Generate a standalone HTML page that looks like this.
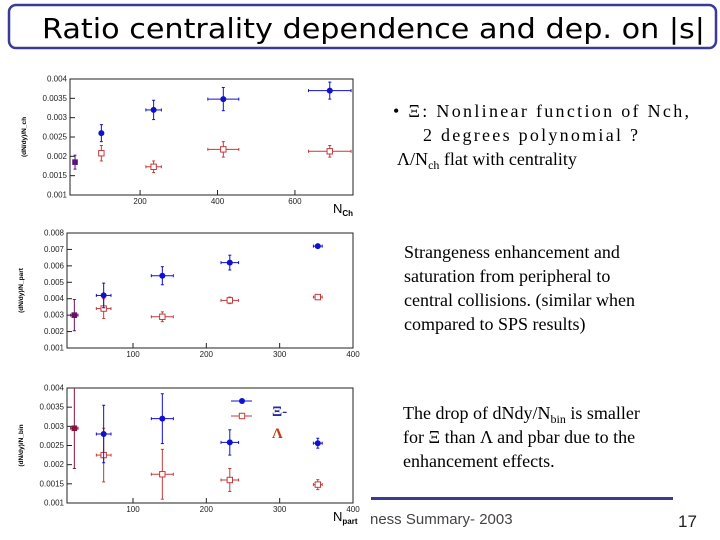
<!DOCTYPE html>
<html><head><meta charset="utf-8"><style>
html,body{margin:0;padding:0;background:#fff;}
svg{display:block;}
.tk{font:8px "Liberation Sans",sans-serif;fill:#222;}
.tx{font:18px "Liberation Serif",serif;fill:#000;}
</style></head><body>
<svg id="s" width="720" height="540" viewBox="0 0 720 540" xmlns="http://www.w3.org/2000/svg">
<rect x="9" y="5" width="707" height="43" rx="7" fill="none" stroke="#3a3a9a" stroke-width="2.5"/>
<text x="42" y="38" font-family="DejaVu Sans, sans-serif" font-size="28" textLength="663" lengthAdjust="spacingAndGlyphs">Ratio centrality dependence and dep. on |s|</text>

<text class="tx" x="393" y="117" textLength="296" lengthAdjust="spacing">• Ξ:  Nonlinear function of Nch,</text>
<text class="tx" x="423" y="141" textLength="215" lengthAdjust="spacing">2 degrees polynomial ?</text>
<text class="tx" x="397" y="165">Λ/N<tspan font-size="12" dy="4">ch</tspan><tspan dy="-4"> flat with centrality</tspan></text>

<text class="tx" x="404" y="258">Strangeness enhancement and</text>
<text class="tx" x="404" y="282">saturation from peripheral to</text>
<text class="tx" x="404" y="306">central collisions. (similar when</text>
<text class="tx" x="404" y="330">compared to SPS results)</text>

<text class="tx" x="403" y="419">The drop of dNdy/N<tspan font-size="12" dy="4">bin</tspan><tspan dy="-4"> is smaller</tspan></text>
<text class="tx" x="403" y="443">for Ξ than Λ and pbar due to the</text>
<text class="tx" x="403" y="467">enhancement effects.</text>

<rect x="371" y="497" width="302" height="3" fill="#3a3a9a"/>
<text x="370" y="524" font-family="Liberation Sans, sans-serif" font-size="15" fill="#444">ness Summary- 2003</text>
<text x="678" y="527" font-family="Liberation Sans, sans-serif" font-size="17" fill="#222">17</text>
<g id="charts"></g>
</svg>
<script>
// Chart 1: vs Nch
const c1x=[32,100,235,415,690];
const c1xi=[0.00185,0.0026,0.0032,0.00348,0.0037];
const c1xiErr=[0.00018,0.00022,0.00025,0.0003,0.00022];
const c1xErr=[5,0,20,40,55];
const c1lx=[100,235,415,690];
const c1la=[0.00208,0.00173,0.00218,0.00213];
const c1laErr=[0.0002,0.00015,0.0002,0.00015];
const c1lxErr=[0,20,40,55];
const c1yt=["0.001","0.0015","0.002","0.0025","0.003","0.0035","0.004"];
const c1xt=["200","400","600"];
// Chart 2: vs Npart
const c2x=[20,60,140,232,352];
const c2xi=[0.003,0.0042,0.0054,0.0062,0.0072];
const c2xiErr=[0.00095,0.00075,0.00055,0.00045,0.0001];
const c2xErr=[5,10,15,12,6];
const c2lx=[60,140,232,352];
const c2la=[0.0034,0.0029,0.0039,0.0041];
const c2laErr=[0.0006,0.0003,0.0002,0.0001];
const c2lxErr=[10,15,12,6];
const c2yt=["0.001","0.002","0.003","0.004","0.005","0.006","0.007","0.008"];
const c2xt=["100","200","300","400"];
// Chart 3: per Nbin
const c3x=[20,60,140,232,352];
const c3xi=[0.00295,0.0028,0.0032,0.00258,0.00256];
const c3xiErr=[0.00105,0.00075,0.00065,0.00033,0.00013];
const c3xErr=[5,10,15,12,6];
const c3lx=[60,140,232,352];
const c3la=[0.00225,0.00175,0.0016,0.00148];
const c3laErr=[0.0007,0.00065,0.0003,0.00013];
const c3lxErr=[10,15,12,6];
const c3yt=["0.001","0.0015","0.002","0.0025","0.003","0.0035","0.004"];
const c3xt=["100","200","300","400"];

const NS="http://www.w3.org/2000/svg";
const root=document.getElementById('charts');
function mk(tag,at,parent){const e=document.createElementNS(NS,tag);for(const k in at)e.setAttribute(k,at[k]);(parent||root).appendChild(e);return e;}
let cid=0;
function chart(cfg){
  const g=mk('g',{});
  
  
  const {L,R,T,B,x0,x1,y0,y1}=cfg;
  const sx=v=>L+(v-x0)/(x1-x0)*(R-L);
  const sy=v=>B-(v-y0)/(y1-y0)*(B-T);
  cid++;
  const cp=mk('clipPath',{id:'cp'+cid},g);
  mk('rect',{x:L-10,y:T,width:R-L+20,height:B-T},cp);
  const fr=mk('rect',{x:L,y:T,width:R-L,height:B-T,fill:'none',stroke:'#222','stroke-width':1},g);
  
  
  cfg.yt.forEach(s=>{const v=parseFloat(s);const y=sy(v);
    mk('line',{x1:L,x2:L+5,y1:y,y2:y,stroke:'#222'},g);
    const t=mk('text',{x:L-3,y:y+2.5,'text-anchor':'end',class:'tk'},g);t.textContent=s;
    
    });
  cfg.xt.forEach(s=>{const v=parseFloat(s);const x=sx(v);
    mk('line',{x1:x,x2:x,y1:B,y2:B-5,stroke:'#222'},g);
    const t=mk('text',{x:x,y:B+9,'text-anchor':'middle',class:'tk'},g);t.textContent=s;
    
    });
  const yl=mk('text',{transform:`translate(${L-44},${(T+B)/2}) rotate(-90)`,'text-anchor':'middle',style:'font:bold 6.5px "Liberation Sans",sans-serif'},g);
  yl.textContent=cfg.ylab;
  
  
  if(cfg.xlab){const xl=mk('text',{x:R-20,y:B+18,style:'font:13px "Liberation Sans",sans-serif'},g);
    xl.innerHTML=cfg.xlab;
    
    }
  const pgAll=mk('g',{'clip-path':'url(#cp'+cid+')'},g);
  function series(xs,ys,ye,xe,col,filled,nm,firstCol){
    xs.forEach((xv,i)=>{const x=sx(xv),y=sy(ys[i]);
      const c=(i===0&&firstCol)?firstCol:col;
      const pg=mk('g',{},pgAll);
      
      
      const ya=sy(ys[i]+ye[i]),yb=sy(ys[i]-ye[i]);
      mk('line',{x1:x,x2:x,y1:ya,y2:yb,stroke:c,'stroke-width':1},pg);
      mk('line',{x1:x-1.5,x2:x+1.5,y1:ya,y2:ya,stroke:c},pg);
      mk('line',{x1:x-1.5,x2:x+1.5,y1:yb,y2:yb,stroke:c},pg);
      if(xe[i]>0){const xa=sx(xv-xe[i]),xb=sx(xv+xe[i]);
        mk('line',{x1:xa,x2:xb,y1:y,y2:y,stroke:c},pg);
        mk('line',{x1:xa,x2:xa,y1:y-1.5,y2:y+1.5,stroke:c},pg);
        mk('line',{x1:xb,x2:xb,y1:y-1.5,y2:y+1.5,stroke:c},pg);}
      if(i===0&&firstCol) mk('rect',{x:x-2.8,y:y-2.8,width:5.6,height:5.6,fill:c},pg);
      else if(filled) mk('circle',{cx:x,cy:y,r:3,fill:c},pg);
      else mk('rect',{x:x-2.7,y:y-2.7,width:5.4,height:5.4,fill:'#fff',stroke:c,'stroke-width':1},pg);
    });
  }
  series(cfg.lx,cfg.la,cfg.laE,cfg.lxE,'#c43a3a',false,'lambda',null);
  series(cfg.x,cfg.xi,cfg.xiE,cfg.xE,'#1010d0',true,'xi',cfg.firstCol);
  return {g,sx,sy};
}
chart({name:'chart-vs-nch',L:70,R:353,T:79,B:195,x0:19,x1:750,y0:0.001,y1:0.004,firstCol:'#5a1080',
  x:c1x,xi:c1xi,xiE:c1xiErr,xE:c1xErr,lx:c1lx,la:c1la,laE:c1laErr,lxE:c1lxErr,yt:c1yt,xt:c1xt,
  ylab:'(dN/dy)/N_ch',xlab:'N<tspan font-size="8" dy="3" font-weight="bold">Ch</tspan>'});
chart({name:'chart-vs-npart',L:67,R:353,T:233,B:348,x0:10,x1:400,y0:0.001,y1:0.008,firstCol:'#6a1060',
  x:c2x,xi:c2xi,xiE:c2xiErr,xE:c2xErr,lx:c2lx,la:c2la,laE:c2laErr,lxE:c2lxErr,yt:c2yt,xt:c2xt,
  ylab:'(dN/dy)/N_part',xlab:''});
chart({name:'chart-per-nbin',L:67,R:353,T:388,B:503,x0:10,x1:400,y0:0.001,y1:0.004,firstCol:'#8a1040',
  x:c3x,xi:c3xi,xiE:c3xiErr,xE:c3xErr,lx:c3lx,la:c3la,laE:c3laErr,lxE:c3lxErr,yt:c3yt,xt:c3xt,
  ylab:'(dN/dy)/N_bin',xlab:'N<tspan font-size="8" dy="3" font-weight="bold">part</tspan>'});
// legend
const lg=mk('g',{});


mk('line',{x1:231,x2:252,y1:401,y2:401,stroke:'#1010d0'},lg);
mk('circle',{cx:242,cy:401,r:3,fill:'#1010d0'},lg);
mk('line',{x1:231,x2:252,y1:416,y2:416,stroke:'#c43a3a'},lg);
mk('rect',{x:239.3,y:413.3,width:5.4,height:5.4,fill:'#fff',stroke:'#c43a3a'},lg);
const t1=mk('text',{x:272,y:416,style:'font:bold 15px "Liberation Serif",serif',fill:'#2a2a9a'},lg);
t1.textContent='Ξ-';


const t2=mk('text',{x:272,y:438,style:'font:bold 15px "Liberation Serif",serif',fill:'#c83a10'},lg);
t2.textContent='Λ';


</script>
</body></html>
